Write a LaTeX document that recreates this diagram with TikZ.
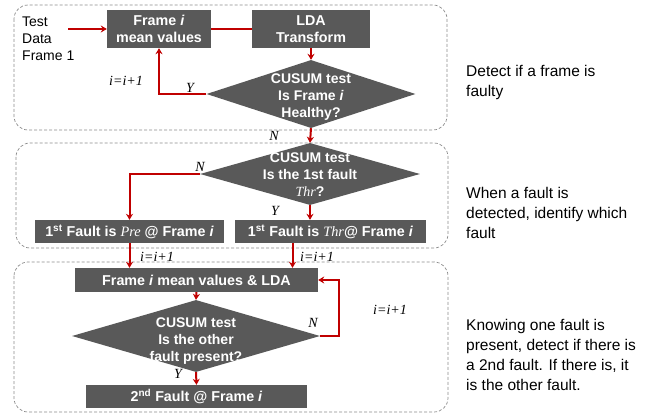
\documentclass[tikz,border=0pt]{standalone}
\usepackage{fontspec}
\setmainfont{Liberation Sans}
\newfontfamily\tms{Liberation Serif}
\usetikzlibrary{shapes.geometric,arrows.meta}

\definecolor{boxgray}{HTML}{595959}
\definecolor{flowred}{HTML}{C00000}
\definecolor{grpgray}{HTML}{8C8C8C}

\tikzset{
  blk/.style={fill=boxgray, text=white, font=\fontsize{14.3}{17}\selectfont\bfseries, align=center, inner sep=0pt},
  dia/.style={diamond, fill=boxgray, inner sep=0pt},
  diatxt/.style={text=white, font=\fontsize{14}{17}\selectfont\bfseries, align=center, inner sep=0pt},
  flow/.style={draw=flowred, line width=2pt},
  grp/.style={draw=grpgray, dash pattern=on 3pt off 2pt, rounded corners=14pt, line width=0.7pt},
  lbl/.style={font=\tms\itshape\fontsize{14}{15}\selectfont, inner sep=0pt},
  side/.style={font=\fontsize{15.5}{20}\selectfont, align=left, anchor=west, inner sep=0pt}
}

\begin{document}
\begin{tikzpicture}[x=1pt, y=-1pt, >={Stealth[length=6pt,width=7pt]}]
    \useasboundingbox (0,0) rectangle (663,414);

    % three stages
    \draw[grp] (14,5) rectangle (447,130);
    \draw[grp] (16,143) rectangle (448,248);
    \draw[grp] (14,262) rectangle (448,412);

    % stage 1: is the frame healthy
    \node[align=left, anchor=west, inner sep=0pt, font=\fontsize{14}{17}\selectfont] (tdata) at (22,39) {Test\\Data\\Frame 1};
    \coordinate (tdin) at (68,29);
    \node[blk, minimum width=104pt, minimum height=38pt] (frameA) at (159,29) {Frame \textit{i}\\mean values};
    \node[blk, minimum width=118pt, minimum height=38pt] (ldaA) at (311,29) {LDA\\Transform};
    \node[dia, minimum width=209pt, minimum height=68pt] (cusumA) at (311,94) {};
    \node[diatxt] (cusumAtxt) at (311,97) {CUSUM test\\Is Frame \textit{i}\\Healthy?};

    \draw[flow,->] (tdin) -- (frameA.west);
    \draw[flow] (frameA.east) -- (ldaA.west);
    \draw[flow,->] (ldaA.south) -- (cusumA.north);
    \draw[flow,->] (cusumA.west) -| (frameA.south);
    \node[lbl] (iA) at (126,81) {i=i+1};
    \node[lbl] (yA) at (190,88) {Y};

    % stage 2: which fault
    \node[dia, minimum width=220pt, minimum height=62pt] (cusumB) at (310,174) {};
    \node[diatxt] (cusumBtxt) at (310,175) {CUSUM test\\Is the 1st fault\\{\tms\itshape\mdseries Thr}?};
    \node[blk, minimum width=189pt, minimum height=23pt] (preBox) at (129.5,231.5) {1\textsuperscript{st} Fault is {\tms\itshape\mdseries Pre} @ Frame \textit{i}};
    \node[blk, minimum width=191pt, minimum height=23pt] (thrBox) at (330.5,231.5) {1\textsuperscript{st} Fault is {\tms\itshape\mdseries Thr}@ Frame \textit{i}};

    \draw[flow,->] (cusumA.south) -- (cusumB.north);
    \node[lbl] (nA) at (274,136) {N};
    \draw[flow,->] (cusumB.west) -| (preBox.north);
    \node[lbl] (nB) at (200,167) {N};
    \draw[flow,->] (cusumB.south) -- (cusumB.south |- thrBox.north);
    \node[lbl] (yB) at (275,211) {Y};

    % stage 3: the other fault
    \node[blk, minimum width=243pt, minimum height=24pt] (ldaB) at (196.5,280) {Frame \textit{i} mean values \& LDA};
    \node[dia, minimum width=248pt, minimum height=72pt] (cusumC) at (196,336) {};
    \node[diatxt] (cusumCtxt) at (196,341) {CUSUM test\\Is the other\\fault present?};
    \node[blk, minimum width=221pt, minimum height=23pt] (secBox) at (196.5,396.5) {2\textsuperscript{nd} Fault @ Frame \textit{i}};

    \draw[flow,->] (preBox.south) -- (preBox.south |- ldaB.north);
    \draw[flow,->] ([xshift=-38pt]thrBox.south) -- ([xshift=-38pt]thrBox.south |- ldaB.north);
    \node[lbl] (iB) at (157,257) {i=i+1};
    \node[lbl] (iC) at (317,257) {i=i+1};
    \draw[flow,->] (ldaB.south) -- (cusumC.north);
    \draw[flow,->] (cusumC.east) -- ++(19,0) |- (ldaB.east);
    \node[lbl] (nC) at (313,323) {N};
    \node[lbl] (iD) at (390,310) {i=i+1};
    \draw[flow,->] (cusumC.south) -- (secBox.north);
    \node[lbl] (yC) at (178,374) {Y};

    % notes on the right
    \node[side] (noteA) at (466,82) {Detect if a frame is\\faulty};
    \node[side] (noteB) at (466,213) {When a fault is\\detected, identify which\\fault};
    \node[side] (noteC) at (466,355) {Knowing one fault is\\present, detect if there is\\a 2nd fault. If there is, it\\is the other fault.};

\end{tikzpicture}
\end{document}
